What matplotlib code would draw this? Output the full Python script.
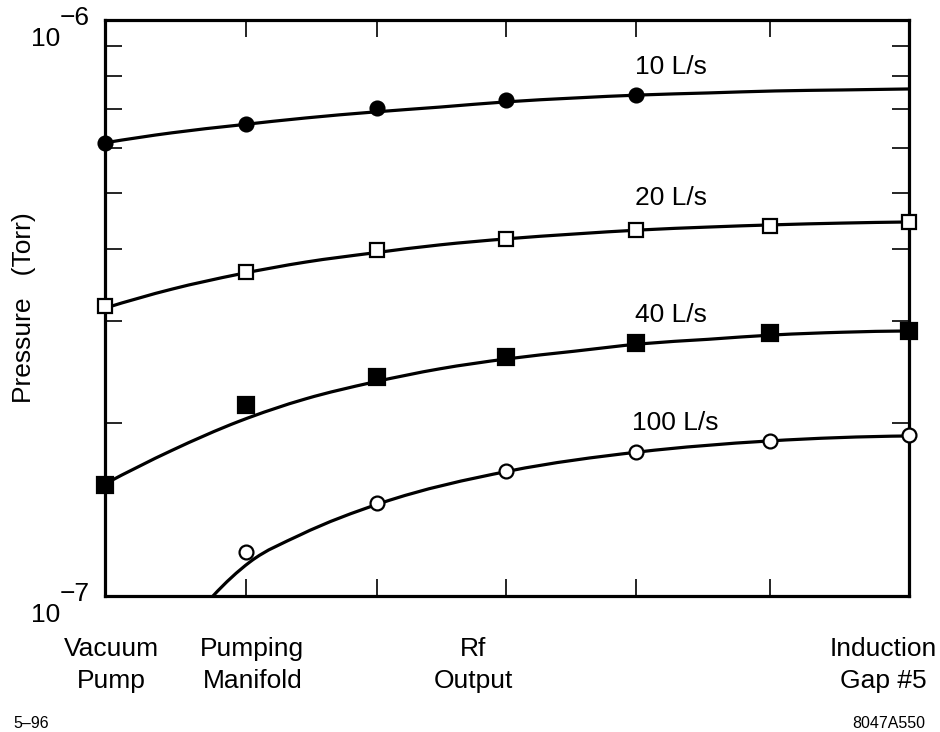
import matplotlib
matplotlib.use("Agg")
import matplotlib.pyplot as plt
import numpy as np
from matplotlib.path import Path
from matplotlib.patches import PathPatch
from matplotlib.ticker import FixedLocator, NullFormatter

plt.rcParams['font.family'] = ['Liberation Sans', 'DejaVu Sans']

# stations along the beam line (x positions of the measurement points)
stations = [0, 1.05, 2.03, 2.99, 3.96, 4.96, 6.0]

# measured pressures (Torr) at each station, per pumping speed
p10 = [6.12e-7, 6.60e-7, 7.03e-7, 7.26e-7, 7.41e-7]
p20 = [3.19e-7, 3.65e-7, 3.99e-7, 4.17e-7, 4.32e-7, 4.39e-7, 4.46e-7]
p40 = [1.56e-7, 2.15e-7, 2.40e-7, 2.60e-7, 2.75e-7, 2.86e-7, 2.885e-7]
p100 = [1.19e-7, 1.45e-7, 1.65e-7, 1.78e-7, 1.86e-7, 1.90e-7]

# fitted pressure profiles (units of 1e-7 Torr)
fit_x = [0, 0.5, 1, 1.5, 2, 2.5, 3, 3.5, 4, 4.5, 5, 5.5, 6]
fit10 = [6.12, 6.37, 6.57, 6.76, 6.92, 7.06, 7.21, 7.32, 7.41, 7.47, 7.53, 7.56, 7.59]
fit20 = [3.16, 3.41, 3.62, 3.80, 3.94, 4.07, 4.17, 4.25, 4.32, 4.37, 4.41, 4.44, 4.46]
fit40 = [1.565, 1.79, 2.01, 2.20, 2.35, 2.48, 2.58, 2.66, 2.74, 2.79, 2.84, 2.87, 2.885]
fit100_x = [0.806, 1.082, 1.455, 2.06, 3.015, 3.978, 4.948, 6.0]
fit100 = [1.0, 1.146, 1.276, 1.45, 1.648, 1.778, 1.858, 1.896]

labels = ["10 L/s", "20 L/s", "40 L/s", "100 L/s"]
station_names = ["Vacuum\nPump", "Pumping\nManifold", "Rf\nOutput", "Induction\nGap #5"]
station_name_x = [0.05, 1.10, 2.75, 5.81]


def smooth_curve(ax, xs, ys, lw):
    # cubic Hermite through the profile points, in (x, log10 p) so the
    # curve stays smooth on the log axis
    x = np.asarray(xs, float)
    v = np.log10(ys)
    m = np.gradient(v, x, edge_order=2)
    verts = [(x[0], v[0])]
    codes = [Path.MOVETO]
    for i in range(len(x) - 1):
        h = (x[i + 1] - x[i]) / 3
        verts += [(x[i] + h, v[i] + m[i] * h),
                  (x[i + 1] - h, v[i + 1] - m[i + 1] * h),
                  (x[i + 1], v[i + 1])]
        codes += [Path.CURVE4] * 3
    verts = np.array(verts)
    verts[:, 1] = 10 ** verts[:, 1]
    ax.add_patch(PathPatch(Path(verts, codes), fill=False, lw=lw,
                           edgecolor='black', capstyle='butt'))


fig = plt.figure(figsize=(9.4, 7.32), dpi=100)
ax = fig.add_axes([0.1117, 0.1858, 0.8553, 0.7869])

lw = 2.3
smooth_curve(ax, fit_x, np.array(fit10) * 1e-7, lw)
smooth_curve(ax, fit_x, np.array(fit20) * 1e-7, lw)
smooth_curve(ax, fit_x, np.array(fit40) * 1e-7, lw)
smooth_curve(ax, fit100_x, np.array(fit100) * 1e-7, lw)

mk = dict(ls='none', mec='black', mew=1.6, clip_on=False, zorder=5)
ax.plot(stations[:5], p10, marker='o', ms=10, mfc='black', **mk)
ax.plot(stations, p20, marker='s', ms=10.5, mfc='white', **mk)
ax.plot(stations, p40, marker='s', ms=11, mfc='black', **mk)
ax.plot(stations[1:], p100, marker='o', ms=10, mfc='white', **mk)

ax.set_yscale('log')
ax.set_xlim(0, 6)
ax.set_ylim(1e-7, 1e-6)

ax.xaxis.set_major_locator(FixedLocator(stations))
ax.xaxis.set_major_formatter(NullFormatter())
ax.yaxis.set_major_locator(FixedLocator([1e-7, 1e-6]))
ax.yaxis.set_minor_locator(FixedLocator([k * 1e-7 for k in range(2, 10)]))
ax.yaxis.set_major_formatter(NullFormatter())
ax.yaxis.set_minor_formatter(NullFormatter())
ax.tick_params(which='both', direction='in', length=12, width=1.2,
               top=True, right=True, color='black')
for s in ax.spines.values():
    s.set_linewidth(2.3)

fs = 19
# decade labels, exponent level with the tick
for val, exp in [(1e-6, "\u22126"), (1e-7, "\u22127")]:
    ax.annotate("10", xy=(0, val), xycoords=('axes fraction', 'data'),
                xytext=(-45, -19), textcoords='offset pixels',
                ha='right', va='center', fontsize=fs)
    ax.annotate(exp, xy=(0, val), xycoords=('axes fraction', 'data'),
                xytext=(-45, 2), textcoords='offset pixels',
                ha='left', va='center', fontsize=fs)

for name, xn in zip(station_names, station_name_x):
    ax.annotate(name, xy=(xn, 0), xycoords=('data', 'axes fraction'),
                xytext=(0, -41), textcoords='offset pixels',
                ha='center', va='top', fontsize=fs, linespacing=1.4)

# curve labels
for lab, yv in zip(labels, [8.29e-7, 4.91e-7, 3.075e-7, 1.997e-7]):
    ax.text(3.955 if lab != "100 L/s" else 3.93, yv, lab, fontsize=fs,
            ha='left', va='center')

ax.set_ylabel("Pressure   (Torr)", fontsize=fs)
ax.yaxis.set_label_coords(-0.086, 0.5)

fig.text(13 / 940, 1 - 723 / 732, "5\u201396", fontsize=11.5, ha='left', va='center')
fig.text(925 / 940, 1 - 723 / 732, "8047A550", fontsize=11.5, ha='right', va='center')

fig.savefig("out.png", dpi=100)
